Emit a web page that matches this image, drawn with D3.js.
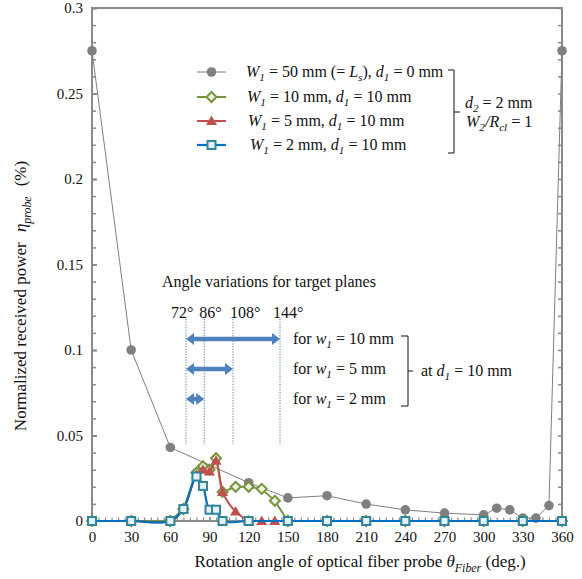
<!DOCTYPE html>
<html><head><meta charset="utf-8">
<script src="https://cdn.jsdelivr.net/npm/d3@7"></script>
<style>
html,body{margin:0;padding:0;background:#fff;}
svg, svg text{font-family:"Liberation Serif","Tinos","DejaVu Serif","Times New Roman",serif !important;}
</style></head>
<body>
<svg id="c" width="582" height="579"></svg>
<script>
// ---- data ----
const angles50 = [0,30,60,120,150,180,210,240,270,300,310,320,330,340,350,360];
const eta50    = [0.275,0.100,0.043,0.0224,0.0135,0.0148,0.0099,0.0065,0.0046,0.0036,0.0075,0.0065,0.0017,0.0017,0.0090,0.275];

const angles10 = [0,30,60,70,80,85,90,95,100,110,120,130,140,150,180,210,240,270,300,330,360];
const eta10    = [0,0,0,0.007,0.0283,0.032,0.030,0.0367,0.017,0.020,0.020,0.0188,0.0118,0,0,0,0,0,0,0,0];

const angles5  = [0,30,60,70,80,85,90,95,100,110,120,130,140,150,180,210,240,270,300,330,360];
const eta5     = [0,0,0,0.007,0.027,0.030,0.029,0.0353,0.017,0.0055,0.0005,0,0,0,0,0,0,0,0,0,0];

const angles2  = [0,30,60,70,80,85,90,95,100,120,150,180,210,240,270,300,330,360];
const eta2     = [0,0,0,0.007,0.026,0.0205,0.0066,0.0066,0,0,0,0,0,0,0,0,0,0];

const xTicks = [0,30,60,90,120,150,180,210,240,270,300,330,360];
const yTicks = [0,0.05,0.1,0.15,0.2,0.25,0.3];
const yTickLabels = ["0","0.05","0.1","0.15","0.2","0.25","0.3"];

const markAngles = [72,86,108,144];
const markLabels = ["72°","86°","108°","144°"];
const arrowSpans = [[72,144],[72,108],[72,86]];
const arrowWidths = ["10 mm","5 mm","2 mm"];

// ---- setup ----
const FONT = "'Liberation Serif','Tinos','DejaVu Serif','Times New Roman',serif";
const svg = d3.select("#c");
const x = d3.scaleLinear().domain([0,360]).range([92,562]);
const y = d3.scaleLinear().domain([0,0.3]).range([521,8]);
const AX = "#8a8a8a";
const FS = 16;
const FT = 15;   // tick labels
const FTT = 17;  // axis titles

function rich(sel, px, py, parts, opts={}) {
  const fs = opts.fs||FS;
  const t = sel.append("text").attr("x",px).attr("y",py).attr("font-family",FONT)
    .attr("font-size",fs).attr("fill","#111");
  if (opts.anchor) t.attr("text-anchor",opts.anchor);
  if (opts.transform) t.attr("transform",opts.transform);
  let shifted = 0;
  parts.forEach(p=>{
    let [s, st, gap] = typeof p === "string" ? [p,"",0] : p;
    const ts = t.append("tspan").text(s);
    let target = 0;
    if (st.includes("sub")) { target = fs*0.27; ts.attr("font-size",fs*0.7); }
    if (st.includes("i")) ts.attr("font-style","italic");
    const dy = target - shifted;
    if (dy !== 0) ts.attr("dy", dy);
    if (gap) ts.attr("dx", gap);
    shifted = target;
  });
  return t;
}

// ---- frame ----
svg.append("rect").attr("x",92).attr("y",8).attr("width",470).attr("height",513)
  .attr("fill","none").attr("stroke",AX).attr("stroke-width",2);

// y axis left
const yAxisMajor = d3.axisLeft(y).tickValues(yTicks).tickSize(-5).tickPadding(9)
  .tickFormat((d,i)=>yTickLabels[i]);
const gy = svg.append("g").attr("transform","translate(92,0)").call(yAxisMajor);
gy.attr("font-family",FONT);
gy.select(".domain").remove();
gy.selectAll("line").attr("stroke",AX).attr("stroke-width",2);
gy.selectAll("text").attr("font-size",FT).attr("font-family",FONT).attr("fill","#111");
const gym = svg.append("g").attr("transform","translate(92,0)")
  .call(d3.axisLeft(y).tickValues(d3.range(0,31).map(d=>d/100)).tickSize(-4).tickFormat(""));
gym.select(".domain").remove();
gym.selectAll("line").attr("stroke",AX).attr("stroke-width",1.5);
// y axis right
const gyr = svg.append("g").attr("transform","translate(562,0)")
  .call(d3.axisRight(y).tickValues(d3.range(0,31).map(d=>d/100)).tickSize(-4).tickFormat(""));
gyr.select(".domain").remove();
gyr.selectAll("line").attr("stroke",AX).attr("stroke-width",1.5);

// x axis
const gx = svg.append("g").attr("transform","translate(0,521)")
  .call(d3.axisBottom(x).tickValues(xTicks).tickSize(-4).tickPadding(10));
gx.attr("font-family",FONT);
gx.select(".domain").remove();
gx.selectAll("line").attr("stroke",AX).attr("stroke-width",1.5);
gx.selectAll("text").attr("font-size",FT).attr("font-family",FONT).attr("fill","#111");
const gxm = svg.append("g").attr("transform","translate(0,521)")
  .call(d3.axisBottom(x).tickValues(d3.range(0,361,5)).tickSize(-3.5).tickFormat(""));
gxm.select(".domain").remove();
gxm.selectAll("line").attr("stroke",AX).attr("stroke-width",1.2);

// axis titles
rich(svg, 360, 567, ["Rotation angle of optical fiber probe  ",["θ","i"],["Fiber","i sub"]," (deg.)"], {anchor:"middle", fs:FTT});
rich(svg, 0, 0, ["Normalized received power ",["η","i",6],["probe","i sub"],["(%)","",10]],
  {anchor:"middle", fs:FTT, transform:"translate(26,296) rotate(-90)"});

// ---- annotation (target planes) ----
const ann = svg.append("g");
const annBlue = "#4f81bd";
ann.selectAll("line.dot").data(markAngles).enter().append("line")
  .attr("x1",d=>x(d)).attr("x2",d=>x(d)).attr("y1",319).attr("y2",444)
  .attr("stroke","#4a7ebb").attr("stroke-width",1).attr("stroke-dasharray","1.2,1.5");
const labelOffsets = [-15,-5,-3,-7];
ann.selectAll("text.deg").data(markAngles).enter().append("text")
  .attr("x",(d,i)=>x(d)+labelOffsets[i]).attr("y",318).attr("font-size",FS).attr("font-family",FONT).attr("fill","#111")
  .text((d,i)=>markLabels[i]);
rich(ann, 162, 287, ["Angle variations  for target planes"]);
const arrowYs = [339,369,399];
arrowSpans.forEach((s,i)=>{
  const x1 = x(s[0]), x2 = x(s[1]), yy = arrowYs[i];
  const hl = 8, hw = 6;
  ann.append("line").attr("x1",x1+hl-1).attr("x2",x2-hl+1).attr("y1",yy).attr("y2",yy)
    .attr("stroke",annBlue).attr("stroke-width",4.5);
  ann.append("path").attr("d",`M${x1},${yy} L${x1+hl},${yy-hw} L${x1+hl},${yy+hw} Z`).attr("fill",annBlue);
  ann.append("path").attr("d",`M${x2},${yy} L${x2-hl},${yy-hw} L${x2-hl},${yy+hw} Z`).attr("fill",annBlue);
  rich(ann, 293, yy+5, ["for ",["w","i"],["1","i sub"]," = "+arrowWidths[i]]);
});
ann.append("path").attr("d","M401,336 H408 V406 H401 M408,371 H413")
  .attr("fill","none").attr("stroke","#111").attr("stroke-width",1);
rich(ann, 421, 376, ["at ",["d","i"],["1","i sub"]," = 10 mm"]);

// ---- series ----
const series = [
  {a:angles50, v:eta50, line:"#7f7f7f", lw:1, curve:d3.curveLinear, mark:"circle"},
  {a:angles10, v:eta10, line:"#77933c", lw:2, curve:d3.curveLinear, mark:"diamond"},
  {a:angles5,  v:eta5,  line:"#c0504d", lw:2, curve:d3.curveCatmullRom.alpha(0.5), mark:"triangle"},
  {a:angles2,  v:eta2,  line:"#0070c0", lw:2.2, curve:d3.curveCatmullRom.alpha(0.5), mark:"square"}
];
function drawMarker(g, type, cx, cy) {
  if (type==="circle") g.append("circle").attr("cx",cx).attr("cy",cy).attr("r",4.8).attr("fill","#808080");
  else if (type==="diamond") g.append("path").attr("d",`M${cx},${cy-5} L${cx+5},${cy} L${cx},${cy+5} L${cx-5},${cy} Z`)
      .attr("fill","#eef3e0").attr("stroke","#77933c").attr("stroke-width",2);
  else if (type==="triangle") g.append("path").attr("d",`M${cx},${cy-5.5} L${cx+5.5},${cy+4} L${cx-5.5},${cy+4} Z`)
      .attr("fill","#c0504d");
  else if (type==="square") g.append("rect").attr("x",cx-4).attr("y",cy-4).attr("width",8).attr("height",8)
      .attr("fill","#e4f1f6").attr("stroke","#31859c").attr("stroke-width",2);
}
series.forEach(s=>{
  const g = svg.append("g");
  const pts = s.a.map((d,i)=>[d,s.v[i]]);
  g.append("path").datum(pts)
    .attr("d", d3.line().x(d=>x(d[0])).y(d=>y(d[1])).curve(s.curve))
    .attr("fill","none").attr("stroke",s.line).attr("stroke-width",s.lw);
  pts.forEach(p=>drawMarker(g, s.mark, x(p[0]), y(p[1])));
});

// ---- legend ----
const leg = svg.append("g");
const legY = [72,97,121,145];
const legParts = [
  [["W","i"],["1","i sub"]," = 50 mm (= ",["L","i"],["s","i sub"],"), ",["d","i"],["1","i sub"]," = 0 mm"],
  [["W","i"],["1","i sub"]," = 10 mm, ",["d","i"],["1","i sub"]," = 10 mm"],
  [["W","i"],["1","i sub"]," = 5 mm, ",["d","i"],["1","i sub"]," = 10 mm"],
  [["W","i"],["1","i sub"]," = 2 mm, ",["d","i"],["1","i sub"]," = 10 mm"]
];
const legTextX = [246,247,248,250];
series.forEach((s,i)=>{
  leg.append("line").attr("x1",197).attr("x2",226).attr("y1",legY[i]).attr("y2",legY[i])
    .attr("stroke",s.line).attr("stroke-width",s.lw);
  drawMarker(leg, s.mark, 211.5, legY[i]);
  rich(leg, legTextX[i], legY[i]+5, legParts[i]);
});
leg.append("path").attr("d","M448,70 H454 V153 H448 M454,112 H460")
  .attr("fill","none").attr("stroke","#111").attr("stroke-width",1);
rich(leg, 465, 108, [["d","i"],["2","i sub"]," = 2 mm"]);
rich(leg, 466, 127, [["W","i"],["2","i sub"],["/","i"],["R","i"],["cl","i sub"]," = 1"]);
</script>
</body></html>
